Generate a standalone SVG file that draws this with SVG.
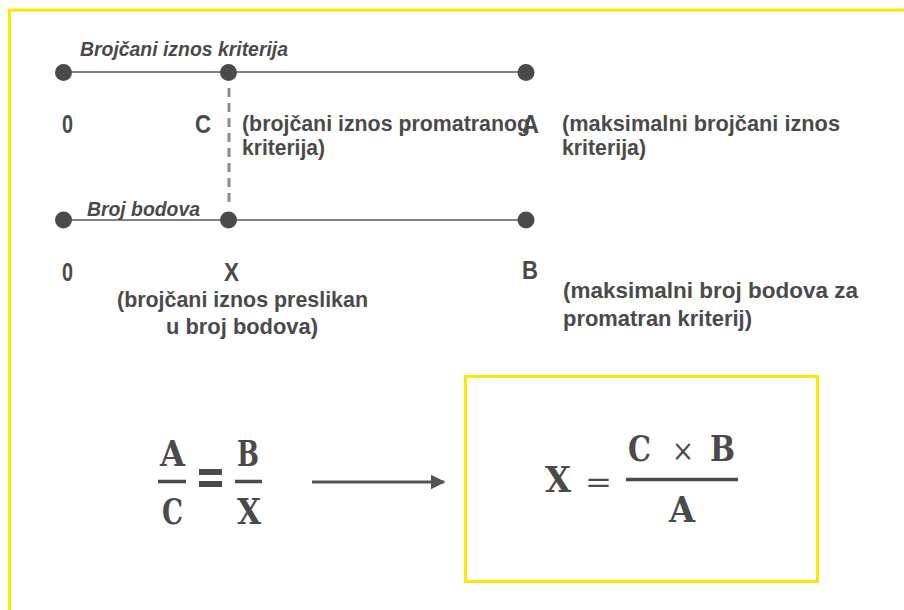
<svg xmlns="http://www.w3.org/2000/svg" width="904" height="610" viewBox="0 0 904 610">
<defs>
<style>
.lbl{font-family:"Liberation Sans",Arial,sans-serif;font-weight:bold;font-size:22px;fill:#4a4a4a}
.big{font-family:"Liberation Sans",Arial,sans-serif;font-weight:bold;font-size:25px;fill:#4a4a4a}
.ttl{font-family:"Liberation Sans",Arial,sans-serif;font-weight:bold;font-style:italic;font-size:20px;fill:#4a4a4a}
.math{font-family:"DejaVu Serif",serif;font-weight:bold;font-size:35px;fill:#4a4a4a}
.mathn{font-family:"DejaVu Serif",serif;font-size:30px;fill:#4a4a4a}
.dot{fill:#4a4a4a}
.axis{stroke:#808080;stroke-width:2;fill:none}
.bar{stroke:#4a4a4a;stroke-width:3.5}
</style>
<marker id="ah" viewBox="0 0 10 10" refX="9" refY="5" markerWidth="5" markerHeight="5" orient="auto" markerUnits="strokeWidth">
<path d="M0,0 L10,5 L0,10 Z" fill="#555555"/>
</marker>
</defs>
<rect x="0" y="0" width="904" height="610" fill="#ffffff"/>
<rect x="9.5" y="10" width="1000" height="700" fill="none" stroke="#FFE600" stroke-width="3"/>

<g id="connectors">
<line class="axis" x1="63" y1="72" x2="526" y2="72"/>
<line class="axis" x1="63" y1="220" x2="526" y2="220"/>
<line x1="229" y1="88" x2="229" y2="202" stroke="#8c8c8c" stroke-width="3" stroke-dasharray="9 6"/>
<line x1="312" y1="482" x2="444" y2="482" stroke="#555555" stroke-width="3" marker-end="url(#ah)"/>
</g>

<g id="top-axis">
<text class="ttl" x="80" y="56" textLength="208" lengthAdjust="spacingAndGlyphs">Brojčani iznos kriterija</text>
<circle class="dot" cx="63.5" cy="72.5" r="8.5"/>
<circle class="dot" cx="228.5" cy="72.5" r="8.5"/>
<circle class="dot" cx="526" cy="72.5" r="8.5"/>
</g>

<g id="top-labels">
<text class="big" x="62" y="133" textLength="11" lengthAdjust="spacingAndGlyphs">0</text>
<text class="big" x="195" y="133" textLength="16" lengthAdjust="spacingAndGlyphs">C</text>
<text class="lbl" x="242" y="131" textLength="288" lengthAdjust="spacingAndGlyphs">(brojčani iznos promatranog</text>
<text class="lbl" x="242" y="155" textLength="83" lengthAdjust="spacingAndGlyphs">kriterija)</text>
<text class="big" x="522" y="133" textLength="17" lengthAdjust="spacingAndGlyphs">A</text>
<text class="lbl" x="562" y="131" textLength="278" lengthAdjust="spacingAndGlyphs">(maksimalni brojčani iznos</text>
<text class="lbl" x="562" y="155" textLength="84" lengthAdjust="spacingAndGlyphs">kriterija)</text>
</g>

<g id="bottom-axis">
<text class="ttl" x="87" y="216" textLength="113" lengthAdjust="spacingAndGlyphs">Broj bodova</text>
<circle class="dot" cx="63.5" cy="220" r="8.5"/>
<circle class="dot" cx="228.5" cy="220" r="8.5"/>
<circle class="dot" cx="526" cy="220" r="8.5"/>
</g>

<g id="bottom-labels">
<text class="big" x="62" y="281" textLength="11" lengthAdjust="spacingAndGlyphs">0</text>
<text class="big" x="224" y="281" textLength="15" lengthAdjust="spacingAndGlyphs">X</text>
<text class="lbl" x="117" y="307" textLength="251" lengthAdjust="spacingAndGlyphs">(brojčani iznos preslikan</text>
<text class="lbl" x="166" y="334" textLength="152" lengthAdjust="spacingAndGlyphs">u broj bodova)</text>
<text class="big" x="522" y="279" textLength="16" lengthAdjust="spacingAndGlyphs">B</text>
<text class="lbl" x="563" y="298" textLength="295" lengthAdjust="spacingAndGlyphs">(maksimalni broj bodova za</text>
<text class="lbl" x="563" y="326" textLength="189" lengthAdjust="spacingAndGlyphs">promatran kriterij)</text>
</g>

<g id="proportion">
<text class="math" x="160" y="466" textLength="25" lengthAdjust="spacingAndGlyphs">A</text>
<line class="bar" x1="158" y1="481.5" x2="186" y2="481.5"/>
<text class="math" x="162" y="524" textLength="21" lengthAdjust="spacingAndGlyphs">C</text>
<rect x="199" y="469" width="23" height="6" fill="#4a4a4a"/>
<rect x="199" y="481" width="23" height="6" fill="#4a4a4a"/>
<text class="math" x="237" y="466" textLength="22" lengthAdjust="spacingAndGlyphs">B</text>
<line class="bar" x1="235" y1="481.5" x2="262" y2="481.5"/>
<text class="math" x="237" y="524" textLength="24" lengthAdjust="spacingAndGlyphs">X</text>
</g>

<g id="result-box">
<rect x="465.5" y="376.5" width="352" height="205" fill="none" stroke="#FFE600" stroke-width="3"/>
<text class="math" x="545" y="492" textLength="26" lengthAdjust="spacingAndGlyphs">X</text>
<text class="mathn" x="585" y="492" textLength="27" lengthAdjust="spacingAndGlyphs">=</text>
<text class="math" x="628" y="461" textLength="23" lengthAdjust="spacingAndGlyphs">C</text>
<text class="mathn" x="672" y="461" textLength="22" lengthAdjust="spacingAndGlyphs">×</text>
<text class="math" x="710" y="461" textLength="25" lengthAdjust="spacingAndGlyphs">B</text>
<line class="bar" x1="626" y1="479.5" x2="738" y2="479.5"/>
<text class="math" x="669" y="522" textLength="26" lengthAdjust="spacingAndGlyphs">A</text>
</g>
</svg>
